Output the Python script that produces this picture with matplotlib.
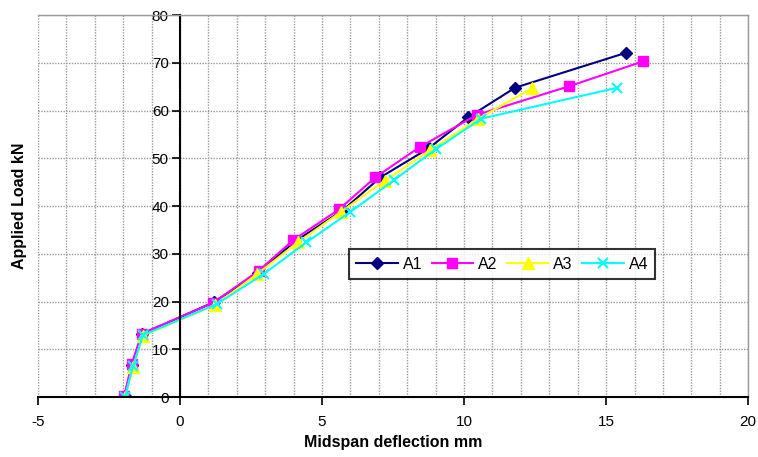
import matplotlib
matplotlib.use("Agg")
import matplotlib.pyplot as plt
from matplotlib.ticker import MultipleLocator

plt.rcParams["font.family"] = ["Liberation Sans", "DejaVu Sans"]
plt.rcParams["axes.unicode_minus"] = False

# Midspan deflection (mm) and applied load (kN)
a1_x = [-1.95, -1.68, -1.33, 1.20, 2.75, 4.05, 5.75, 7.05, 8.75, 10.15, 11.80, 15.70]
a1_y = [0.3, 6.8, 13.2, 19.9, 26.0, 32.6, 39.2, 46.0, 52.1, 58.6, 64.8, 72.1]

a2_x = [-1.96, -1.70, -1.35, 1.18, 2.78, 3.99, 5.60, 6.87, 8.45, 10.45, 13.70, 16.30]
a2_y = [0.3, 6.9, 13.3, 19.8, 26.5, 32.9, 39.3, 46.0, 52.4, 59.1, 65.1, 70.3]

a3_x = [-1.93, -1.65, -1.30, 1.25, 2.72, 4.15, 5.67, 7.20, 8.80, 10.50, 12.40]
a3_y = [0.0, 6.4, 12.9, 19.3, 25.8, 32.4, 38.8, 45.3, 51.7, 58.3, 64.7]

a4_x = [-1.93, -1.65, -1.30, 1.30, 2.95, 4.45, 6.00, 7.55, 9.00, 10.60, 15.40]
a4_y = [0.1, 6.5, 13.0, 19.5, 25.8, 32.4, 38.8, 45.5, 51.9, 58.3, 64.8]

series = [
    ("A1", a1_x, a1_y, "#000080", "D", 6),
    ("A2", a2_x, a2_y, "#ff00ff", "s", 6.5),
    ("A3", a3_x, a3_y, "#ffff00", "^", 8),
    ("A4", a4_x, a4_y, "#00ffff", "x", 6.5),
]

fig = plt.figure(figsize=(7.58, 4.57), dpi=100)
ax = fig.add_axes([0.050, 0.131, 0.937, 0.836])

for name, xs, ys, col, mk, ms in series:
    ax.plot(xs, ys, color=col, marker=mk, markersize=ms, lw=1.5,
            markeredgewidth=1.5 if mk == "x" else 1.0, label=name)

ax.set_xlim(-5, 20)
ax.set_ylim(0, 80)
ax.xaxis.set_major_locator(MultipleLocator(5))
ax.xaxis.set_minor_locator(MultipleLocator(1))
ax.yaxis.set_major_locator(MultipleLocator(10))

grid_kw = dict(color="#999999", linestyle=(0, (1, 1)), lw=1.0)
ax.grid(True, which="major", axis="both", **grid_kw)
ax.grid(True, which="minor", axis="x", **grid_kw)
ax.set_axisbelow(True)

ax.spines["left"].set_position(("data", 0))
ax.spines["left"].set_linewidth(1.5)
ax.spines["bottom"].set_linewidth(1.5)
for side in ("top", "right"):
    ax.spines[side].set_color("#999999")
    ax.spines[side].set_linewidth(1.0)

ax.tick_params(axis="both", which="major", direction="out", length=6,
               width=1.2, labelsize=11)
ax.tick_params(axis="x", which="minor", length=0)
ax.tick_params(axis="x", pad=7)
ax.tick_params(axis="y", pad=2)

ax.set_xlabel("Midspan deflection mm", fontsize=11.5, fontweight="bold", labelpad=4)
ax.set_ylabel("Applied Load kN", fontsize=11.5, fontweight="bold")
ax.yaxis.set_label_coords(-0.016, 0.5)

leg = ax.legend(loc="center left", bbox_to_anchor=(0.438, 0.348), ncol=4,
                fontsize=11.5, frameon=True, fancybox=False, edgecolor="black",
                handlelength=2.6, columnspacing=0.6, handletextpad=0.3,
                borderpad=0.45, borderaxespad=0)
leg.get_frame().set_linewidth(1.5)

fig.savefig("out.png", dpi=100)
